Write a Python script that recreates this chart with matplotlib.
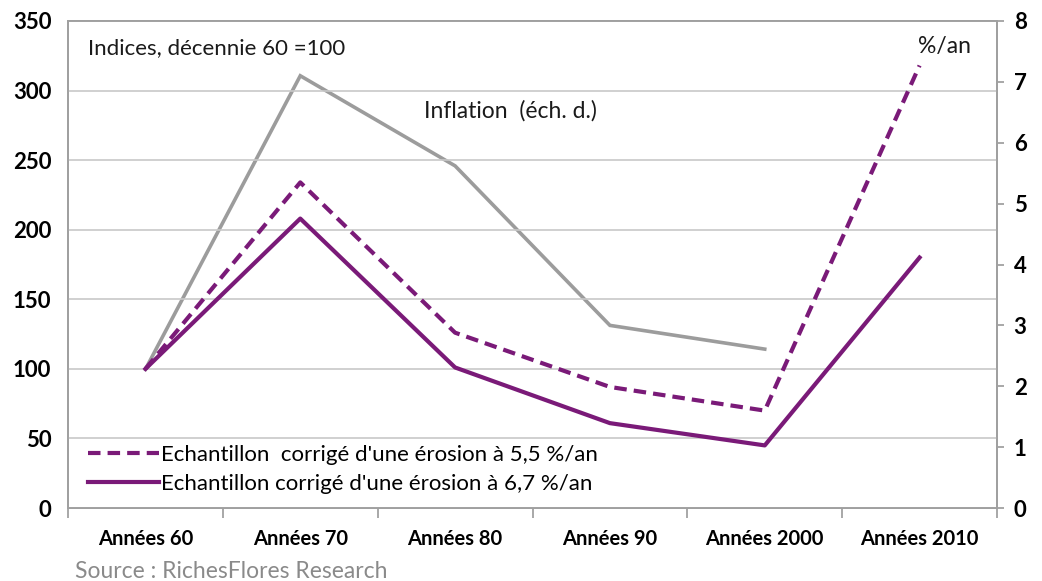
import numpy as np
import matplotlib.pyplot as plt

plt.rcParams['font.family'] = ['Lato', 'DejaVu Sans']

decennies = ["Années 60", "Années 70", "Années 80", "Années 90", "Années 2000", "Années 2010"]
erosion_55 = [100, 234, 126, 87, 70, 318]
erosion_67 = [100, 208, 101, 61, 45, 180]
inflation = [2.28, 7.1, 5.62, 3.0, 2.61]  # % par an, échelle de droite

violet = '#7a1a78'
gris = '#9c9c9c'

fig = plt.figure(figsize=(10.42, 5.81), dpi=100)
ax = fig.add_axes([0.0653, 0.1256, 0.8915, 0.8383])
ax2 = ax.twinx()

x = np.arange(len(decennies))
ax2.plot(x[:len(inflation)], inflation, color=gris, lw=2.6, solid_joinstyle='miter')
ax.plot(x, erosion_55, color=violet, lw=3, ls=(0, (3, 1.7)),
        label="Echantillon  corrigé d'une érosion à 5,5 %/an")
ax.plot(x, erosion_67, color=violet, lw=3,
        label="Echantillon corrigé d'une érosion à 6,7 %/an")
ax.set_zorder(ax2.get_zorder() + 1)
ax.patch.set_visible(False)

ax.set_xlim(-0.5, 5.5)
ax.set_ylim(0, 350)
ax2.set_ylim(0, 8)
ax.set_yticks(range(0, 351, 50))
ax2.set_yticks(range(0, 9))
ax.grid(axis='y', color='#c8c8c8', lw=1.2)

ax.set_xticks(x)
ax.set_xticklabels(decennies, fontsize=14.5, fontweight='bold')
ax.set_xticks(np.arange(-0.5, 6, 1), minor=True)
ax.tick_params(axis='x', which='major', length=0, pad=15)
ax.tick_params(axis='x', which='minor', length=7, color='#999999', width=1.2)
ax.tick_params(axis='y', length=0, labelsize=16, pad=12)
ax2.tick_params(axis='y', length=5, color='#999999', width=1.2, labelsize=16, pad=7)
for lab in ax.get_yticklabels() + ax2.get_yticklabels():
    lab.set_fontweight('bold')

for a in (ax, ax2):
    for s in a.spines.values():
        s.set_color('#a0a0a0')
        s.set_linewidth(1.3)

ax.text(0.022, 0.965, "Indices, décennie 60 =100", transform=ax.transAxes,
        fontsize=16, va='top', color='#1a1a1a')
ax.text(0.383, 0.838, "Inflation  (éch. d.)", transform=ax.transAxes,
        fontsize=16.5, va='top', color='#1a1a1a')
ax.text(0.915, 0.97, "%/an", transform=ax.transAxes,
        fontsize=16.5, va='top', color='#1a1a1a')

leg = ax.legend(loc='lower left', bbox_to_anchor=(0.0, -0.012), frameon=False,
                fontsize=16, handlelength=3.2, handletextpad=0.1, labelspacing=0.4,
                borderaxespad=0.5)

fig.text(0.072, 0.006, "Source : RichesFlores Research", fontsize=16.5, color='#8a8a8a')

fig.savefig('out.png', dpi=100)
